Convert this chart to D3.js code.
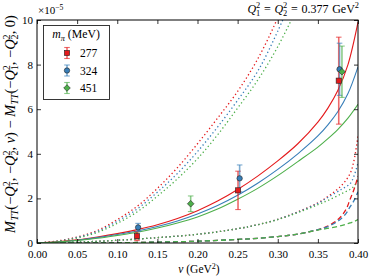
<!DOCTYPE html>
<html><head><meta charset="utf-8">
<script src="https://cdn.jsdelivr.net/npm/d3@7"></script>
<style>
html,body{margin:0;padding:0;background:#fff;}
svg{display:block;}
text{font-family:"Liberation Serif","Times New Roman",serif;fill:#000;}
</style></head>
<body>
<svg id="chart" width="374" height="280"></svg>
<script>
// ---------------- data (units of 1e-5) ----------------
const mpiLabels = ["277", "324", "451"];
const xTicks = [0, 0.05, 0.10, 0.15, 0.20, 0.25, 0.30, 0.35, 0.40];
const yTicks = [0, 2, 4, 6, 8, 10];

// solid curves
const nuGrid = [0,0.025,0.05,0.075,0.1,0.125,0.15,0.175,0.2,0.225,0.25,0.275,0.3,0.325,0.35,0.3625,0.375,0.3875,0.4];
const solid277 = [0,0.05,0.14,0.27,0.42,0.6,0.82,1.1,1.45,1.88,2.4,3.0,3.68,4.45,5.42,6.05,6.85,8.0,9.9];
const solid324 = [0,0.045,0.125,0.24,0.38,0.54,0.74,0.99,1.3,1.68,2.14,2.68,3.3,4.0,4.8,5.3,5.9,6.7,7.9];
const solid451 = [0,0.04,0.11,0.21,0.34,0.48,0.67,0.9,1.17,1.52,1.96,2.45,3.02,3.65,4.3,4.68,5.1,5.6,6.22];

// steep dotted curves
const nuSteep = [0,0.025,0.05,0.075,0.1,0.125,0.15,0.175,0.2,0.225,0.25,0.275,0.3,0.325];
const steep277 = [0,0.09,0.27,0.56,1.05,1.65,2.45,3.38,4.45,5.6,6.8,8.25,10.1,12.3];
const steep324 = [0,0.08,0.25,0.52,0.97,1.53,2.28,3.12,4.1,5.2,6.4,7.7,9.5,11.6];
const steep451 = [0,0.07,0.22,0.47,0.88,1.4,2.1,2.88,3.78,4.85,6.05,7.3,8.8,10.6];

// lower dotted curves
const nuLow = [0,0.05,0.1,0.15,0.2,0.25,0.275,0.3,0.325,0.35,0.365,0.38,0.39,0.395,0.4];
const low277 = [0,0.04,0.12,0.24,0.39,0.64,0.82,1.06,1.4,1.8,2.15,2.6,3.1,3.7,4.8];
const low324 = [0,0.04,0.12,0.24,0.39,0.64,0.82,1.06,1.39,1.78,2.1,2.42,2.65,3.0,3.6];
const low451 = [0,0.04,0.12,0.24,0.39,0.64,0.82,1.05,1.36,1.72,1.95,2.22,2.4,2.55,2.8];

// dashed curves
const nuDash = [0,0.05,0.1,0.15,0.2,0.25,0.275,0.3,0.325,0.35,0.36,0.375,0.385,0.39,0.395,0.4];
const dash277 = [0,0,0.01,0.04,0.08,0.16,0.21,0.29,0.4,0.6,0.72,1.05,1.5,1.95,2.4,3.0];
const dash324 = [0,0,0.01,0.04,0.08,0.16,0.21,0.29,0.4,0.6,0.7,0.98,1.32,1.62,1.9,2.3];
const dash451 = [0,0,0.01,0.04,0.08,0.16,0.21,0.29,0.4,0.58,0.64,0.74,0.84,0.9,0.96,1.05];

// lattice points
const ptsNu277 = [0.1246, 0.2505, 0.376];
const ptsV277  = [0.31, 2.36, 7.28];
const ptsE277  = [0.2, 0.86, 1.95];
const ptsNu324 = [0.126, 0.2525, 0.377];
const ptsV324  = [0.70, 2.9, 7.79];
const ptsE324  = [0.18, 0.6, 1.17];
const ptsNu451 = [0.1915, 0.380];
const ptsV451  = [1.76, 7.68];
const ptsE451  = [0.35, 1.15];

// ---------------- drawing ----------------
const colors = ["#e41a1c", "#377eb8", "#4daf4a"];
const svg = d3.select("#chart");
const L = 37, R = 358, T = 20, B = 243;
const x = d3.scaleLinear().domain([0, 0.4]).range([L, R]);
const y = d3.scaleLinear().domain([0, 10]).range([B, T]);

svg.append("defs").append("clipPath").attr("id", "clip")
  .append("rect").attr("x", L).attr("y", T).attr("width", R - L).attr("height", B - T);

const plot = svg.append("g").attr("clip-path", "url(#clip)");
const line = d3.line().x(d => x(d[0])).y(d => y(d[1])).curve(d3.curveCatmullRom.alpha(0.5));
const zip = (a, b) => a.map((v, i) => [v, b[i]]);

const steepSets = [steep277, steep324, steep451];
const lowSets = [low277, low324, low451];
const dashSets = [dash277, dash324, dash451];
const solidSets = [solid277, solid324, solid451];

steepSets.forEach((s, i) => plot.append("path").attr("d", line(zip(nuSteep, s)))
  .attr("fill", "none").attr("stroke", colors[i]).attr("stroke-width", 1.3).attr("stroke-dasharray", "1.3,2.6"));
lowSets.forEach((s, i) => plot.append("path").attr("d", line(zip(nuLow, s)))
  .attr("fill", "none").attr("stroke", colors[i]).attr("stroke-width", 1.3).attr("stroke-dasharray", "1.3,2.6"));
dashSets.forEach((s, i) => plot.append("path").attr("d", line(zip(nuDash, s)))
  .attr("fill", "none").attr("stroke", colors[i]).attr("stroke-width", 1.3).attr("stroke-dasharray", "5,3"));
solidSets.forEach((s, i) => plot.append("path").attr("d", line(zip(nuGrid, s)))
  .attr("fill", "none").attr("stroke", colors[i]).attr("stroke-width", 1.1));

// markers
function drawMarker(g, kind, cx, cy, col) {
  if (kind === 0) {
    g.append("rect").attr("x", cx - 2.6).attr("y", cy - 2.6).attr("width", 5.2).attr("height", 5.2)
      .attr("fill", col).attr("stroke", "#222").attr("stroke-width", 0.6);
  } else if (kind === 1) {
    g.append("circle").attr("cx", cx).attr("cy", cy).attr("r", 2.7)
      .attr("fill", col).attr("stroke", "#222").attr("stroke-width", 0.6);
  } else {
    const h = 3.3;
    g.append("path").attr("d", `M${cx},${cy - h}L${cx + h},${cy}L${cx},${cy + h}L${cx - h},${cy}Z`)
      .attr("fill", col).attr("stroke", "#222").attr("stroke-width", 0.6);
  }
}
function drawErr(g, cx, y0, y1, col) {
  g.append("line").attr("x1", cx).attr("x2", cx).attr("y1", y0).attr("y2", y1)
    .attr("stroke", col).attr("stroke-width", 1.6).attr("stroke-opacity", 0.65);
  [y0, y1].forEach(yy => g.append("line").attr("x1", cx - 2.8).attr("x2", cx + 2.8).attr("y1", yy).attr("y2", yy)
    .attr("stroke", col).attr("stroke-width", 1.1).attr("stroke-opacity", 0.65));
}
const ptSets = [[ptsNu277, ptsV277, ptsE277], [ptsNu324, ptsV324, ptsE324], [ptsNu451, ptsV451, ptsE451]];
const pg = svg.append("g");
ptSets.forEach((ps, k) => {
  ps[0].forEach((nu, j) => {
    drawErr(pg, x(nu), y(ps[1][j] - ps[2][j]), y(ps[1][j] + ps[2][j]), colors[k]);
  });
});
ptSets.forEach((ps, k) => {
  ps[0].forEach((nu, j) => drawMarker(pg, k, x(nu), y(ps[1][j]), colors[k]));
});

// axes
const fs = 11;
const ax = svg.append("g").attr("transform", `translate(0,${B})`)
  .call(d3.axisBottom(x).tickValues(xTicks).tickFormat(d3.format(".2f")).tickSize(-4).tickPadding(7));
const axT = svg.append("g").attr("transform", `translate(0,${T})`)
  .call(d3.axisTop(x).tickValues(xTicks).tickFormat("").tickSize(-4));
const ay = svg.append("g").attr("transform", `translate(${L},0)`)
  .call(d3.axisLeft(y).tickValues(yTicks).tickFormat(d3.format("d")).tickSize(-4).tickPadding(4));
const ayR = svg.append("g").attr("transform", `translate(${R},0)`)
  .call(d3.axisRight(y).tickValues(yTicks).tickFormat("").tickSize(-4));
[ax, axT, ay, ayR].forEach(a => {
  a.select(".domain").remove();
  a.selectAll("line").attr("stroke", "#000").attr("stroke-width", 0.8);
  a.selectAll("text").attr("font-family", "Liberation Serif").attr("font-size", fs).attr("fill", "#000");
});
svg.append("rect").attr("x", L).attr("y", T).attr("width", R - L).attr("height", B - T)
  .attr("fill", "none").attr("stroke", "#000").attr("stroke-width", 1);

// math text helper
function mathText(t, parts, size) {
  let cur = 0;
  parts.forEach(p => {
    if (p.subsup) {
      const s = size * 0.7;
      const up = -0.38 * size, dn = 0.22 * size;
      t.append("tspan").attr("font-size", s).attr("dy", up - cur).text(p.subsup[1]);
      t.append("tspan").attr("font-size", s).attr("dx", -0.5 * s).attr("dy", dn - up).text(p.subsup[0]);
      cur = dn;
    } else if (p.sub || p.sup) {
      const s = size * 0.7;
      const off = p.sub ? 0.22 * size : -0.38 * size;
      t.append("tspan").attr("font-size", s).attr("font-style", p.i ? "italic" : "normal")
        .attr("dy", off - cur).text(p.sub || p.sup);
      cur = off;
    } else {
      t.append("tspan").attr("font-size", size).attr("font-style", p.i ? "italic" : "normal")
        .attr("dy", 0 - cur).text(p.t);
      cur = 0;
    }
  });
}

// y label
const yParts = [
  {t: "M", i: true}, {sub: "TT", i: true}, {t: "(−"}, {t: "Q", i: true}, {subsup: ["1", "2"]},
  {t: ", −"}, {t: "Q", i: true}, {subsup: ["2", "2"]}, {t: ", "}, {t: "ν", i: true}, {t: ") − "},
  {t: "M", i: true}, {sub: "TT", i: true}, {t: "(−"}, {t: "Q", i: true}, {subsup: ["1", "2"]},
  {t: ", −"}, {t: "Q", i: true}, {subsup: ["2", "2"]}, {t: ", 0)"}
];
const yl = svg.append("text").attr("text-anchor", "middle").attr("transform", "translate(15,124) rotate(-90)");
mathText(yl, yParts, 12);
let len = yl.node().getComputedTextLength();
const ySize = 12 * 238 / len;
yl.selectAll("tspan").remove();
mathText(yl, yParts, ySize);

// x label
const xl = svg.append("text").attr("text-anchor", "middle").attr("x", 199).attr("y", 273);
mathText(xl, [{t: "ν", i: true}, {t: " (GeV"}, {sup: "2"}, {t: ")"}], 11.5);

// multiplier
const mul = svg.append("text").attr("x", 38).attr("y", 14);
mathText(mul, [{t: "×10"}, {sup: "−5"}], 11);

// title
const ti = svg.append("text").attr("text-anchor", "end").attr("x", 359).attr("y", 13);
mathText(ti, [{t: "Q", i: true}, {subsup: ["1", "2"]}, {t: " = "}, {t: "Q", i: true}, {subsup: ["2", "2"]},
  {t: " = 0.377 GeV"}, {sup: "2"}], 12);
const tlen = ti.node().getComputedTextLength();
if (tlen < 120) ti.attr("word-spacing", (120 - tlen) / 5);

// legend
const lg = svg.append("g");
lg.append("rect").attr("x", 43.5).attr("y", 25.5).attr("width", 66).attr("height", 74)
  .attr("fill", "#fff").attr("stroke", "#222").attr("stroke-width", 0.9);
const lt = lg.append("text").attr("x", 76).attr("y", 38).attr("text-anchor", "middle");
mathText(lt, [{t: "m", i: true}, {sub: "π", i: true}, {t: " (MeV)"}], 11.8);
mpiLabels.forEach((lab, k) => {
  const cy = 53 + k * 17.5;
  drawErr(lg, 67, cy - 5.5, cy + 5.5, colors[k]);
  drawMarker(lg, k, 67, cy, colors[k]);
  lg.append("text").attr("x", 80).attr("y", cy + 4).attr("font-size", 11.5).text(lab);
});
</script>
</body></html>
